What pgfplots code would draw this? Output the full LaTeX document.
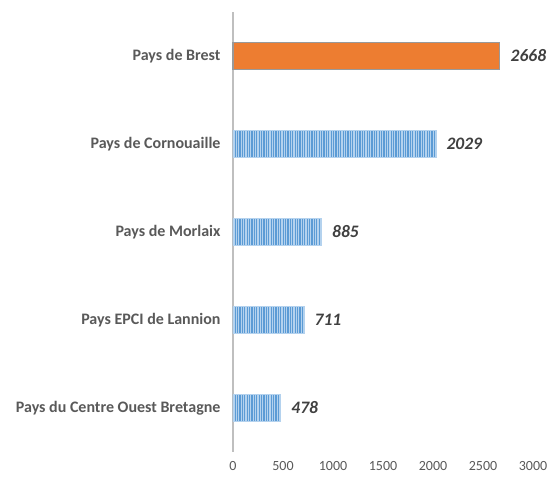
\documentclass[border=0pt]{standalone}
\usepackage{fontspec}
\setmainfont{Carlito}
\usepackage{pgfplots}
\pgfplotsset{compat=1.18}
\usetikzlibrary{patterns.meta}
\definecolor{orangebar}{HTML}{ED7D31}
\definecolor{bluedark}{HTML}{5B9BD5}
\definecolor{bluelight}{HTML}{B4D2EE}
\definecolor{txtgray}{HTML}{595959}
\definecolor{valgray}{HTML}{404040}
\definecolor{axgray}{HTML}{BFBFBF}
\begin{document}
\begin{tikzpicture}
\begin{axis}[
  name=ax,
  scale only axis,
  width=300pt, height=440pt,
  xmin=0, xmax=3000,
  ymin=-0.5, ymax=4.5,
  xtick={0,500,...,3000},
  ytick={0,1,2,3,4},
  yticklabels={Pays du Centre Ouest Bretagne, Pays EPCI de Lannion, Pays de Morlaix, Pays de Cornouaille, Pays de Brest},
  /pgf/number format/assume math mode=true,
  /pgf/number format/set thousands separator={},
  major tick length=0pt,
  axis lines*=left,
  x axis line style={draw=none},
  y axis line style={draw=axgray, line width=1.6pt, -},
  xticklabel style={font=\fontsize{14}{16}\selectfont, text=txtgray, yshift=-6pt},
  yticklabel style={font=\fontsize{16}{18}\selectfont\bfseries, text=txtgray, xshift=-9pt},
  point meta=x,
  nodes near coords,
  every node near coord/.append style={font=\fontsize{17.5}{20}\selectfont\bfseries\itshape, text=valgray, anchor=west, xshift=7pt},
  xbar, bar shift=0pt, bar width=27pt,
  clip=false,
]
\addplot[draw=gray!80, line width=1.2pt, fill=orangebar] coordinates {(2668,4)};
\addplot[draw=bluelight, line width=0.6pt, fill=bluelight, postaction={pattern={Lines[angle=90, distance=2.4pt, line width=1.1pt]}, pattern color=bluedark}] coordinates {(2029,3) (885,2) (711,1) (478,0)};
\end{axis}
\pgfresetboundingbox
\path (ax.south west) ++(-233pt,-29pt) rectangle ++(556pt,481pt);
\end{tikzpicture}
\end{document}
